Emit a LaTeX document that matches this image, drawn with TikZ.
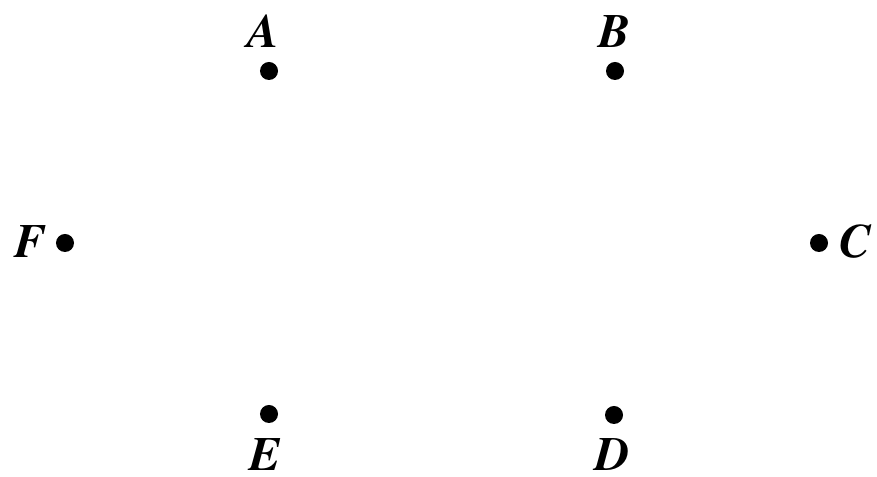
\documentclass[tikz,border=0pt]{standalone}
\usepackage[T1]{fontenc}
\tikzset{
  pt/.style={circle,fill=black,inner sep=0pt,minimum size=0.45cm},
  ptlabel/.style={inner sep=0pt,font=\fontfamily{ptm}\fontsize{34}{34}\selectfont\bfseries\itshape}
}
\begin{document}
\begin{tikzpicture}[x=0.025cm,y=-0.025cm]
\useasboundingbox (0,0) rectangle (877,477);

% the six points
\foreach \n/\x/\y in {A/269/71,B/615/71,C/819/243,D/614/415,E/269/414,F/65/243}
  \node[pt] (\n) at (\x,\y) {};

% their letters
\foreach \n/\x/\y in {A/263/31,B/614/31,C/855/241,D/613/454,E/265/454,F/30/241}
  \node[ptlabel] (l\n) at (\x,\y) {\n};

\end{tikzpicture}
\end{document}
